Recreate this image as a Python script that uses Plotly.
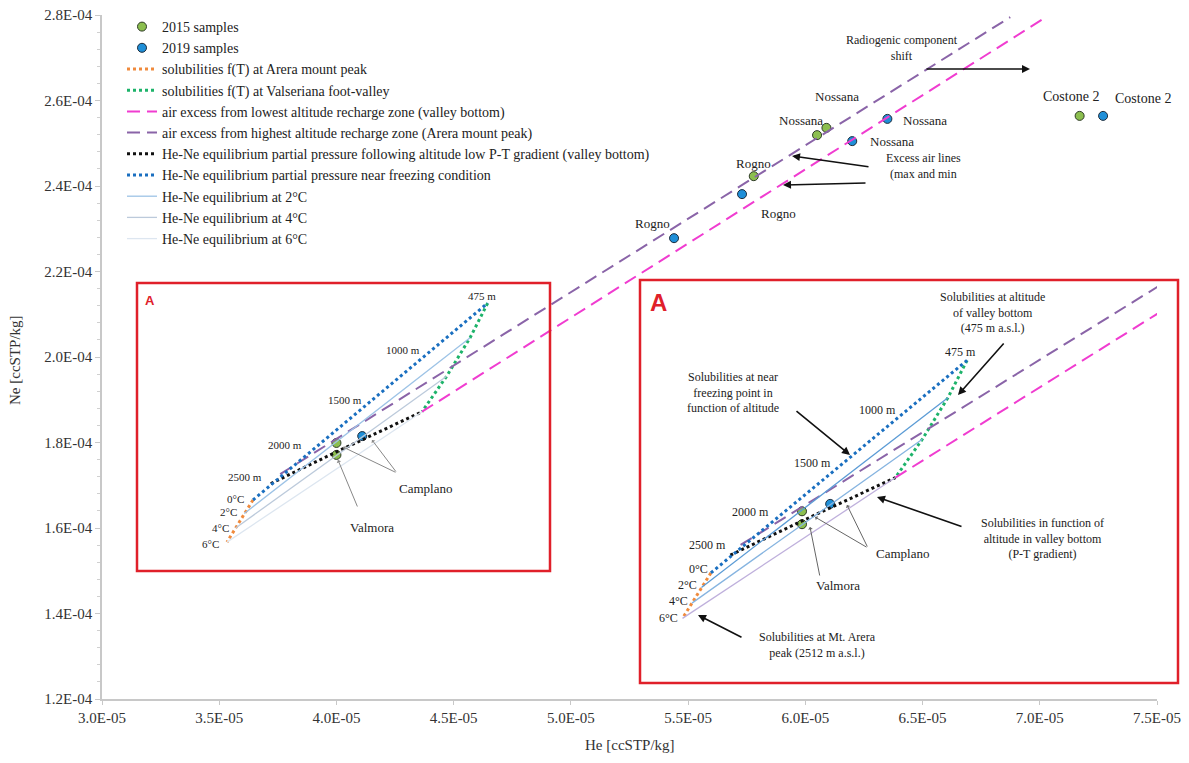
import plotly.graph_objects as go

# ---------------- data ----------------
s2015_he = [5.78e-5, 6.05e-5, 6.09e-5, 7.17e-5, 4.00e-5, 4.00e-5]
s2015_ne = [2.423e-4, 2.519e-4, 2.536e-4, 2.564e-4, 1.799e-4, 1.771e-4]
s2019_he = [5.44e-5, 5.73e-5, 6.20e-5, 6.35e-5, 7.27e-5, 4.11e-5]
s2019_ne = [2.278e-4, 2.381e-4, 2.505e-4, 2.557e-4, 2.564e-4, 1.815e-4]

arera_T = [0, 2, 4, 6]
arera_he = [3.644e-5, 3.607e-5, 3.570e-5, 3.533e-5]
arera_ne = [1.6655e-4, 1.634e-4, 1.600e-4, 1.567e-4]

valley_T = [0, 2, 4, 6]
valley_he = [4.645e-5, 4.57e-5, 4.47e-5, 4.365e-5]
valley_ne = [2.126e-4, 2.045e-4, 1.955e-4, 1.872e-4]

air_low_he = [4.365e-5, 7.015e-5]
air_low_ne = [1.872e-4, 2.791e-4]
air_high_he = [3.76e-5, 6.874e-5]
air_high_ne = [1.726e-4, 2.795e-4]

ptgrad_he = [3.72e-5, 4.00e-5, 4.365e-5]
ptgrad_ne = [1.704e-4, 1.778e-4, 1.872e-4]

freeze_alt = [2512, 2000, 1500, 1000, 475]
freeze_he = [3.644e-5, 3.93e-5, 4.18e-5, 4.43e-5, 4.645e-5]
freeze_ne = [1.6655e-4, 1.797e-4, 1.912e-4, 2.027e-4, 2.126e-4]

eq2_he = [3.607e-5, 4.57e-5]
eq2_ne = [1.634e-4, 2.045e-4]
eq4_he = [3.570e-5, 4.47e-5]
eq4_ne = [1.600e-4, 1.955e-4]
eq6_he = [3.533e-5, 4.365e-5]
eq6_ne = [1.567e-4, 1.872e-4]

x_tickvals = [3.0e-5, 3.5e-5, 4.0e-5, 4.5e-5, 5.0e-5, 5.5e-5, 6.0e-5, 6.5e-5, 7.0e-5, 7.5e-5]
x_ticktext = ["3.0E-05", "3.5E-05", "4.0E-05", "4.5E-05", "5.0E-05", "5.5E-05",
              "6.0E-05", "6.5E-05", "7.0E-05", "7.5E-05"]
y_tickvals = [1.2e-4, 1.4e-4, 1.6e-4, 1.8e-4, 2.0e-4, 2.2e-4, 2.4e-4, 2.6e-4, 2.8e-4]
y_ticktext = ["1.2E-04", "1.4E-04", "1.6E-04", "1.8E-04", "2.0E-04", "2.2E-04",
              "2.4E-04", "2.6E-04", "2.8E-04"]

# ---------------- layout helpers ----------------
# the page body adds an 8px offset; screen coordinates are converted to figure coordinates
OFF = 8
W, H = 1189, 763
L, R, T, B = 94, 40, 7, 72
PW, PH = W - L - R, H - T - B


def px(x):
    return (x - OFF - L) / PW


def py(y):
    return (H - B - (y - OFF)) / PH


SERIF = "Liberation Serif"
GREEN = "#8cbf4f"
BLUE = "#1f8fd8"
ORANGE = "#f08a3c"
VGREEN = "#1db36a"
PINK = "#f03cd0"
PURPLE = "#8a64a8"
DBLUE = "#1a6fc0"

fig = go.Figure()


def add_set(xa, ya, legend, eqcols):
    sl = legend
    fig.add_trace(go.Scatter(x=s2015_he, y=s2015_ne, mode="markers", name="2015 samples",
                             marker=dict(size=9, color=GREEN, line=dict(color="#2d3a25", width=1)),
                             xaxis=xa, yaxis=ya, showlegend=sl))
    fig.add_trace(go.Scatter(x=s2019_he, y=s2019_ne, mode="markers", name="2019 samples",
                             marker=dict(size=9, color=BLUE, line=dict(color="#1c2c3c", width=1)),
                             xaxis=xa, yaxis=ya, showlegend=sl))
    fig.add_trace(go.Scatter(x=arera_he, y=arera_ne, mode="lines", name="solubilities f(T) at Arera mount peak",
                             line=dict(color=ORANGE, width=3, dash="dot"), xaxis=xa, yaxis=ya, showlegend=sl))
    fig.add_trace(go.Scatter(x=valley_he, y=valley_ne, mode="lines", name="solubilities f(T) at Valseriana foot-valley",
                             line=dict(color=VGREEN, width=3, dash="dot"), xaxis=xa, yaxis=ya, showlegend=sl))
    fig.add_trace(go.Scatter(x=air_low_he, y=air_low_ne, mode="lines",
                             name="air excess from lowest altitude recharge zone (valley bottom)",
                             line=dict(color=PINK, width=2, dash="13px,7px"), xaxis=xa, yaxis=ya, showlegend=sl))
    fig.add_trace(go.Scatter(x=air_high_he, y=air_high_ne, mode="lines",
                             name="air excess from highest altitude recharge zone (Arera mount peak)",
                             line=dict(color=PURPLE, width=2, dash="13px,7px"), xaxis=xa, yaxis=ya, showlegend=sl))
    fig.add_trace(go.Scatter(x=ptgrad_he, y=ptgrad_ne, mode="lines",
                             name="He-Ne equilibrium partial pressure following altitude low P-T gradient (valley bottom)",
                             line=dict(color="#111111", width=3, dash="dot"), xaxis=xa, yaxis=ya, showlegend=sl))
    fig.add_trace(go.Scatter(x=freeze_he, y=freeze_ne, mode="lines",
                             name="He-Ne equilibrium partial pressure near freezing condition",
                             line=dict(color=DBLUE, width=3, dash="dot"), xaxis=xa, yaxis=ya, showlegend=sl))
    fig.add_trace(go.Scatter(x=eq2_he, y=eq2_ne, mode="lines", name="He-Ne equilibrium at 2°C",
                             line=dict(color=eqcols[0], width=1.3), xaxis=xa, yaxis=ya, showlegend=sl))
    fig.add_trace(go.Scatter(x=eq4_he, y=eq4_ne, mode="lines", name="He-Ne equilibrium at 4°C",
                             line=dict(color=eqcols[1], width=1.3), xaxis=xa, yaxis=ya, showlegend=sl))
    fig.add_trace(go.Scatter(x=eq6_he, y=eq6_ne, mode="lines", name="He-Ne equilibrium at 6°C",
                             line=dict(color=eqcols[2], width=1.3), xaxis=xa, yaxis=ya, showlegend=sl))


add_set("x", "y", True, ["#9dc3e6", "#bccadb", "#dde6f0"])
add_set("x2", "y2", False, ["#5b9bd5", "#86b4e0", "#bfb0dc"])

# ---------------- annotations ----------------
ann = []


def text(x, y, s, size=13, color="#222222", family=SERIF, bold=False):
    if bold:
        s = "<b>" + s + "</b>"
    ann.append(dict(x=px(x), y=py(y), xref="paper", yref="paper", text=s, showarrow=False,
                    font=dict(size=size, color=color, family=family), xanchor="center", yanchor="middle"))


def arrow(tipx, tipy, tailx, taily, color="#111111", width=1.6, head=2, size=1.0):
    ann.append(dict(x=px(tipx), y=py(tipy), xref="paper", yref="paper", text="", showarrow=True,
                    ax=tailx - tipx, ay=taily - tipy, arrowhead=head, arrowsize=size,
                    arrowwidth=width, arrowcolor=color, standoff=0, startstandoff=0))


# main labels
text(652, 223, "Rogno")
text(778, 213, "Rogno")
text(753, 163, "Rogno")
text(801, 121, "Nossana")
text(837, 97, "Nossana")
text(925, 120, "Nossana")
text(892, 142, "Nossana")
text(1071, 97, "Costone 2", size=14)
text(1143, 98, "Costone 2", size=14)
text(923, 166, "Excess air lines<br>(max and min", size=12)
arrow(792, 156, 870, 167)
arrow(783, 185, 867, 183)
text(902, 48, "Radiogenic component<br>shift", size=12)
arrow(1030, 69, 925, 69)

# left inset
text(150, 300, "A", size=13, color="#e0202a", family="Arial", bold=True)
text(482, 296, "475 m", size=11)
text(403, 350, "1000 m", size=11)
text(345, 400, "1500 m", size=11)
text(285, 445, "2000 m", size=11)
text(245, 477, "2500 m", size=11)
text(235, 499, "0°C", size=11)
text(228, 512, "2°C", size=11)
text(220, 528, "4°C", size=11)
text(210, 544, "6°C", size=11)
text(425, 489, "Camplano", size=13)
text(372, 527, "Valmora", size=13)
arrow(343, 447, 397, 473, color="#888888", width=1, head=1, size=0.8)
arrow(372, 440, 397, 473, color="#888888", width=1, head=1, size=0.8)
arrow(338, 460, 358, 508, color="#888888", width=1, head=1, size=0.8)

# right inset
text(658, 302, "A", size=24, color="#e0202a", family="Arial", bold=True)
text(992, 313, "Solubilities at altitude<br>of valley bottom<br>(475 m a.s.l.)", size=12)
arrow(958, 395, 1005, 342)
text(960, 352, "475 m", size=12)
text(733, 393, "Solubilities at near<br>freezing point in<br>function of altitude", size=12)
arrow(850, 455, 795, 410)
text(877, 410, "1000 m", size=12)
text(812, 463, "1500 m", size=12)
text(750, 512, "2000 m", size=12)
text(707, 545, "2500 m", size=12)
text(698, 569, "0°C", size=12)
text(687, 585, "2°C", size=12)
text(678, 601, "4°C", size=12)
text(668, 618, "6°C", size=12)
text(902, 553, "Camplano", size=13)
text(838, 585, "Valmora", size=13)
arrow(815, 517, 868, 548, color="#666666", width=1, head=1, size=0.8)
arrow(847, 505, 868, 548, color="#666666", width=1, head=1, size=0.8)
arrow(810, 527, 820, 577, color="#666666", width=1, head=1, size=0.8)
text(1042, 538, "Solubilities in function of<br>altitude in valley bottom<br>(P-T gradient)", size=12)
arrow(877, 497, 963, 527)
text(817, 645, "Solubilities at Mt. Arera<br>peak (2512 m a.s.l.)", size=12)
arrow(698, 615, 743, 638)

# axis titles (fixed positions)
text(630, 745, "He [ccSTP/kg]", size=15, color="#333333")
ann.append(dict(x=px(15), y=py(360), xref="paper", yref="paper", text="Ne [ccSTP/kg]", showarrow=False,
                textangle=-90, font=dict(size=15, color="#333333", family=SERIF),
                xanchor="center", yanchor="middle"))

shapes = [
    dict(type="rect", xref="paper", yref="paper", x0=px(137), x1=px(550), y0=py(571), y1=py(283),
         line=dict(color="#e0202a", width=2.5)),
    dict(type="rect", xref="paper", yref="paper", x0=px(640), x1=px(1178), y0=py(683), y1=py(280),
         line=dict(color="#e0202a", width=2.5)),
]

axis_font = dict(family=SERIF, size=15, color="#333333")

fig.update_layout(
    width=W, height=H,
    margin=dict(l=L, r=R, t=T, b=B, autoexpand=False),
    paper_bgcolor="white", plot_bgcolor="white",
    font=dict(family=SERIF, color="#222222"),
    xaxis=dict(range=[2.99999e-5, 7.50001e-5], tickvals=x_tickvals, ticktext=x_ticktext, tickfont=axis_font,
               showgrid=False, zeroline=False, showline=True, linecolor="#c8c8c8", linewidth=1.5,
               ticks="outside", ticklen=4, tickcolor="#c8c8c8", automargin=False,
               ticklabeloverflow="allow"),
    yaxis=dict(range=[1.19999e-4, 2.80001e-4], tickvals=y_tickvals, ticktext=y_ticktext, tickfont=axis_font,
               showgrid=False, zeroline=False, showline=True, linecolor="#c8c8c8", linewidth=1.5,
               ticks="outside", ticklen=5, tickcolor="#c8c8c8", automargin=False,
               ticklabeloverflow="allow",
               minor=dict(ticks="outside", ticklen=3, tickcolor="#d0d0d0", dtick=0.4e-5)),
    xaxis2=dict(domain=[px(640), 1.0], range=[3.367e-5, 5.387e-5], visible=False, anchor="y2"),
    yaxis2=dict(domain=[py(683), py(280)], range=[1.427e-4, 2.300e-4], visible=False, anchor="x2"),
    legend=dict(x=px(122), y=py(11), xanchor="left", yanchor="top", bgcolor="rgba(0,0,0,0)",
                font=dict(family=SERIF, size=14, color="#222222"), tracegroupgap=0, itemwidth=30),
    annotations=ann,
    shapes=shapes,
    showlegend=True,
)

fig.write_html("out.html")
